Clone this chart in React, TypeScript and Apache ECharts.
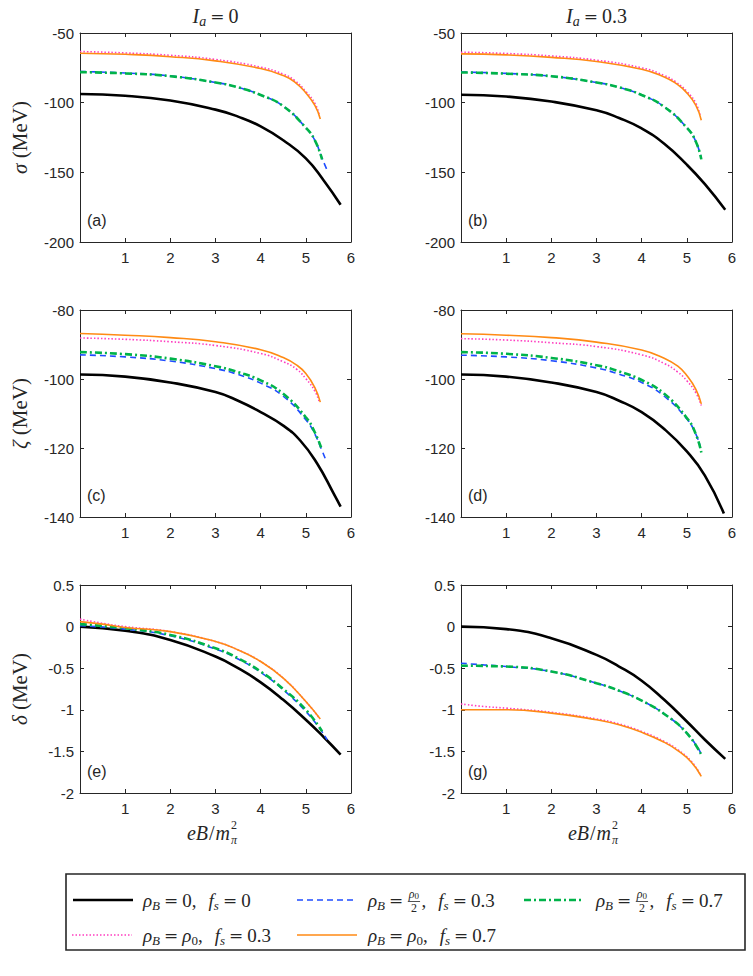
import React, { useEffect, useRef } from 'react';
import * as echarts from 'echarts';

// ---------------- data ----------------
// x = eB / m_pi^2
// Panel (a): sigma, I_a = 0
const sigmaA_black = [[0, -93.8], [1, -95], [2, -98.5], [3, -105], [3.5, -110], [4, -117], [4.5, -127], [5, -140], [5.4, -156], [5.77, -173.3]];
const sigmaA_blue = [[0, -77.6], [1, -78.7], [2, -80.8], [3, -85.5], [3.5, -89], [4, -94.5], [4.5, -102.5], [5, -118], [5.2, -127], [5.36, -140], [5.49, -149.8]];
const sigmaA_green = [[0, -78.1], [1, -79], [2, -81], [3, -85.5], [3.5, -89], [4, -94.5], [4.5, -102.5], [5, -118], [5.2, -127], [5.36, -140.7]];
const sigmaA_pink = [[0, -63.3], [1, -64.3], [2, -66], [3, -69], [4, -74.5], [4.5, -79.5], [4.75, -84], [5, -92], [5.2, -100.5], [5.3, -109]];
const sigmaA_orange = [[0, -64.5], [1, -65.3], [2, -67], [3, -70], [4, -75.5], [4.5, -80.5], [4.75, -85], [5, -93], [5.2, -102], [5.32, -111.7]];
// Panel (b): sigma, I_a = 0.3
const sigmaB_black = [[0, -94.3], [1, -95.6], [2, -99.2], [3, -105.5], [3.5, -111], [4, -118.5], [4.5, -129.5], [5, -144.5], [5.4, -158.5], [5.85, -176.9]];
const sigmaB_blue = [[0, -78], [1, -79], [2, -81], [3, -85.5], [3.5, -89], [4, -94.5], [4.5, -103], [5, -118], [5.2, -128], [5.32, -140.2]];
const sigmaB_green = [[0, -78.3], [1, -79.2], [2, -81], [3, -85.5], [3.5, -89], [4, -94.5], [4.5, -103], [5, -118], [5.2, -128], [5.32, -140.7]];
const sigmaB_pink = [[0, -63.8], [1, -64.7], [2, -66.5], [3, -69.5], [4, -75], [4.5, -80.5], [4.75, -85], [5, -92], [5.2, -100.5], [5.3, -110.2]];
const sigmaB_orange = [[0, -65], [1, -65.7], [2, -67.5], [3, -70.5], [4, -76], [4.5, -81.5], [4.75, -86], [5, -93], [5.2, -102], [5.32, -112.6]];
// Panel (c): zeta, I_a = 0
const zetaC_black = [[0, -98.7], [1, -99.3], [2, -101], [3, -103.8], [3.5, -106.3], [4, -109.6], [4.5, -113.5], [4.88, -117.9], [5.25, -124.5], [5.62, -133.3], [5.77, -137]];
const zetaC_blue = [[0, -93], [1, -93.6], [2, -94.8], [3, -97], [3.5, -98.7], [4, -101.2], [4.5, -105], [5, -111.8], [5.2, -116], [5.35, -120.5], [5.45, -123.7]];
const zetaC_green = [[0, -92.2], [1, -92.8], [2, -94.1], [3, -96.3], [3.5, -98], [4, -100.4], [4.5, -104.3], [5, -111.1], [5.2, -115.5], [5.35, -120.3]];
const zetaC_pink = [[0, -88.1], [1, -88.5], [2, -89.2], [3, -90.3], [4, -92.6], [4.5, -95], [4.8, -97.2], [5, -99.9], [5.2, -103.5], [5.3, -106.7]];
const zetaC_orange = [[0, -86.8], [1, -87.3], [2, -88], [3, -89.2], [4, -91.5], [4.5, -93.8], [4.8, -96], [5, -98.4], [5.2, -102.5], [5.32, -106.7]];
// Panel (d): zeta, I_a = 0.3
const zetaD_black = [[0, -98.7], [1, -99.3], [2, -101], [3, -103.8], [3.5, -106.3], [4, -109.6], [4.5, -114.5], [5, -121], [5.4, -128], [5.82, -139]];
const zetaD_blue = [[0, -93.1], [1, -93.6], [2, -94.7], [3, -96.8], [3.5, -98.6], [4, -101], [4.5, -105], [5, -111.6], [5.2, -116], [5.3, -119.8]];
const zetaD_green = [[0, -92.2], [1, -92.7], [2, -93.9], [3, -96], [3.5, -97.8], [4, -100.3], [4.5, -104.3], [5, -111.3], [5.2, -116], [5.32, -121.3]];
const zetaD_pink = [[0, -88.3], [1, -88.7], [2, -89.5], [3, -90.6], [4, -93], [4.5, -95.5], [4.8, -98], [5, -100.5], [5.2, -104], [5.32, -107.7]];
const zetaD_orange = [[0, -86.9], [1, -87.3], [2, -88], [3, -89.3], [4, -91.6], [4.5, -94], [4.8, -96.3], [5, -99], [5.2, -103], [5.32, -107.2]];
// Panel (e): delta, I_a = 0
const deltaE_black = [[0, 0], [1, -0.05], [2, -0.16], [3, -0.36], [3.5, -0.5], [4, -0.67], [4.5, -0.88], [5, -1.12], [5.4, -1.33], [5.77, -1.54]];
const deltaE_blue = [[0, 0.01], [1, -0.03], [2, -0.11], [3, -0.27], [3.5, -0.39], [4, -0.55], [4.5, -0.76], [5, -1.02], [5.3, -1.22], [5.47, -1.36]];
const deltaE_green = [[0, 0.03], [1, -0.02], [2, -0.1], [3, -0.26], [3.5, -0.38], [4, -0.54], [4.5, -0.75], [5, -1.0], [5.36, -1.26]];
const deltaE_pink = [[0, 0.09], [0.5, 0.04], [1, 0], [2, -0.06], [3, -0.18], [3.5, -0.28], [4, -0.42], [4.5, -0.62], [5, -0.9], [5.3, -1.1]];
const deltaE_orange = [[0, 0.06], [0.5, 0.03], [1, -0.01], [2, -0.06], [3, -0.18], [3.5, -0.28], [4, -0.42], [4.5, -0.62], [5, -0.9], [5.32, -1.11]];
// Panel (g): delta, I_a = 0.3
const deltaG_black = [[0, 0], [1, -0.03], [2, -0.14], [3, -0.34], [3.5, -0.48], [4, -0.65], [4.5, -0.88], [5, -1.14], [5.4, -1.36], [5.85, -1.59]];
const deltaG_blue = [[0, -0.44], [0.5, -0.46], [1, -0.48], [2, -0.54], [3, -0.68], [3.5, -0.77], [4, -0.89], [4.5, -1.05], [5, -1.28], [5.32, -1.53]];
const deltaG_green = [[0, -0.47], [1, -0.48], [2, -0.54], [3, -0.68], [3.5, -0.77], [4, -0.89], [4.5, -1.05], [5, -1.28], [5.32, -1.54]];
const deltaG_pink = [[0, -0.93], [0.5, -0.96], [1, -0.98], [2, -1.03], [3, -1.11], [3.5, -1.17], [4, -1.26], [4.5, -1.38], [4.8, -1.48], [5.1, -1.62], [5.3, -1.78]];
const deltaG_orange = [[0, -1.0], [1, -1.0], [2, -1.04], [3, -1.12], [3.5, -1.18], [4, -1.27], [4.5, -1.39], [4.8, -1.49], [5.1, -1.63], [5.32, -1.8]];

const xRange = [0, 6, 1];
const sigmaRange = [-200, -50, 50];
const zetaRange = [-140, -80, 20];
const deltaRange = [-2, 0.5, 0.5];
const panelLetters = ['(a)', '(b)', '(c)', '(d)', '(e)', '(g)'];

// ---------------- styling ----------------
const SERIF = '"Liberation Serif", "DejaVu Serif", serif';
const EQFONT = '"DejaVu Serif", "Liberation Serif", serif';
const SANS = '"Liberation Sans", Arial, Helvetica, sans-serif';
const AX = '#262626';

const seriesStyles = [
  { color: '#000000', width: 2.6, type: 'solid' as any },
  { color: '#1f4cff', width: 1.6, type: [6, 4] as any },
  { color: '#00b34a', width: 2.6, type: [7, 3, 2, 3] as any },
  { color: '#ff3dc0', width: 1.6, type: [1.5, 2] as any },
  { color: '#ff8a14', width: 1.6, type: 'solid' as any },
];

const GRIDS = [
  { left: 80, top: 33, width: 271, height: 209 },
  { left: 461, top: 33, width: 271, height: 209 },
  { left: 80, top: 310, width: 271, height: 207 },
  { left: 461, top: 310, width: 271, height: 207 },
  { left: 80, top: 585, width: 271, height: 208 },
  { left: 461, top: 585, width: 271, height: 208 },
];

const panelData = [
  [sigmaA_black, sigmaA_blue, sigmaA_green, sigmaA_pink, sigmaA_orange],
  [sigmaB_black, sigmaB_blue, sigmaB_green, sigmaB_pink, sigmaB_orange],
  [zetaC_black, zetaC_blue, zetaC_green, zetaC_pink, zetaC_orange],
  [zetaD_black, zetaD_blue, zetaD_green, zetaD_pink, zetaD_orange],
  [deltaE_black, deltaE_blue, deltaE_green, deltaE_pink, deltaE_orange],
  [deltaG_black, deltaG_blue, deltaG_green, deltaG_pink, deltaG_orange],
];
const panelY = [sigmaRange, sigmaRange, zetaRange, zetaRange, deltaRange, deltaRange];

// ---------------- math-like text layout ----------------
let ctx: CanvasRenderingContext2D | null = null;
function measure(t: string, size: number, italic: boolean, family = SERIF) {
  if (!ctx) ctx = document.createElement('canvas').getContext('2d');
  ctx!.font = `${italic ? 'italic ' : ''}${size}px ${family}`;
  return ctx!.measureText(t).width;
}

type Piece = any;
function layout(pieces: Piece[], x: number, y: number, base: number, els: any[] | null): number {
  let cx = x;
  for (const p of pieces) {
    if (p.g !== undefined) {
      cx += p.g;
    } else if (p.num) {
      const wn = layout(p.num, 0, 0, base, null);
      const wd = layout(p.den, 0, 0, base, null);
      const w = Math.max(wn, wd) + 3;
      if (els) {
        layout(p.num, cx + (w - wn) / 2, y - 6, base, els);
        layout(p.den, cx + (w - wd) / 2, y + 8, base, els);
        els.push({
          type: 'line', silent: true,
          shape: { x1: cx + 0.5, y1: y + 1.5, x2: cx + w - 0.5, y2: y + 1.5 },
          style: { stroke: AX, lineWidth: 0.8 },
        });
      }
      cx += w + 1;
    } else if (p.sup) {
      const ws = measure(p.sup, 12, false);
      const wb = measure(p.sub, 12, true);
      if (els) {
        els.push(txt(p.sup, cx + 1, y - 8, 12, false, SERIF));
        els.push(txt(p.sub, cx + 1, y + 7, 12, true, SERIF));
      }
      cx += Math.max(ws, wb) + 1;
    } else {
      const size = p.s ?? base;
      const fam = p.f ?? SERIF;
      const w = measure(p.t, size, !!p.it, fam);
      if (els) els.push(txt(p.t, cx, y + (p.dy || 0), size, !!p.it, fam));
      cx += w;
    }
  }
  return cx - x;
}
function txt(t: string, x: number, y: number, size: number, italic: boolean, family: string) {
  return {
    type: 'text', x, y, silent: true,
    style: {
      text: t, fontSize: size, fontFamily: family, fontStyle: italic ? 'italic' : 'normal',
      fill: AX, align: 'left', verticalAlign: 'middle', textAlign: 'left', textVerticalAlign: 'middle',
    },
  };
}
function mathText(pieces: Piece[], x: number, y: number, base: number, align: 'left' | 'center', els: any[]) {
  const w = layout(pieces, 0, 0, base, null);
  const x0 = align === 'center' ? x - w / 2 : x;
  layout(pieces, x0, y, base, els);
}

const sub = (t: string, it = true) => ({ t, it, s: 13, dy: 5 });
const EQ = [{ g: 4 }, { t: '=', f: EQFONT, s: 17 }, { g: 4 }];
const COMMA = [{ t: ',' }, { g: 12 }];
const rhoHalf = { num: [{ t: 'ρ', it: true, s: 12 }, { t: '0', s: 9, dy: 2 }], den: [{ t: '2', s: 12 }] };
const rhoB = [{ t: 'ρ', it: true }, sub('B')];
const fs = [{ t: 'f', it: true }, sub('s')];
const legendLabels: Piece[][] = [
  [...rhoB, ...EQ, { t: '0' }, ...COMMA, ...fs, ...EQ, { t: '0' }],
  [...rhoB, ...EQ, rhoHalf, ...COMMA, ...fs, ...EQ, { t: '0.3' }],
  [...rhoB, ...EQ, rhoHalf, ...COMMA, ...fs, ...EQ, { t: '0.7' }],
  [...rhoB, ...EQ, { t: 'ρ', it: true }, sub('0', false), ...COMMA, ...fs, ...EQ, { t: '0.3' }],
  [...rhoB, ...EQ, { t: 'ρ', it: true }, sub('0', false), ...COMMA, ...fs, ...EQ, { t: '0.7' }],
];
// legend positions: [lineX1, lineX2, y, textX]
const legendPos = [
  [73, 133, 900, 143],
  [297, 356, 900, 368],
  [524, 584, 900, 596],
  [72, 132, 935, 143],
  [297, 357, 935, 368],
];

function buildOption() {
  const grid = GRIDS.map((g) => ({ ...g }));
  const xAxis: any[] = [];
  const yAxis: any[] = [];
  const series: any[] = [];
  const yNames = ['σ', '', 'ζ', '', 'δ', ''];
  GRIDS.forEach((g, i) => {
    const common = {
      type: 'value', gridIndex: i, min: xRange[0], max: xRange[1], interval: xRange[2],
      axisLine: { show: true, onZero: false, lineStyle: { color: AX, width: 1 } },
      axisTick: { show: true, inside: true, length: 4, lineStyle: { color: AX, width: 1 } },
      splitLine: { show: false },
    };
    xAxis.push({
      ...common, position: 'bottom',
      axisLabel: { margin: 8, color: AX, fontSize: 15, fontFamily: SANS, formatter: (v: number) => (v === 0 ? '' : String(v)) },
    });
    xAxis.push({ ...common, position: 'top', axisLabel: { show: false } });
    const [ymin, ymax, yint] = panelY[i];
    const ycommon = {
      type: 'value', gridIndex: i, min: ymin, max: ymax, interval: yint,
      axisLine: { show: true, onZero: false, lineStyle: { color: AX, width: 1 } },
      axisTick: { show: true, inside: true, length: 4, lineStyle: { color: AX, width: 1 } },
      splitLine: { show: false },
    };
    const yl: any = {
      ...ycommon, position: 'left',
      axisLabel: { margin: 6, color: AX, fontSize: 15, fontFamily: SANS, formatter: (v: number) => String(v) },
    };
    if (yNames[i]) {
      yl.name = `{i|${yNames[i]}} {r|(MeV)}`;
      yl.nameLocation = 'middle';
      yl.nameGap = 50;
      yl.nameRotate = 90;
      yl.nameTextStyle = {
        color: AX, fontFamily: SERIF, fontSize: 21,
        rich: {
          i: { fontStyle: 'italic', fontFamily: SERIF, fontSize: 21, color: AX },
          r: { fontFamily: SERIF, fontSize: 21, color: AX },
        },
      };
    }
    yAxis.push(yl);
    yAxis.push({ ...ycommon, position: 'right', axisLabel: { show: false } });
    panelData[i].forEach((d, k) => {
      const st = seriesStyles[k];
      series.push({
        type: 'line', xAxisIndex: i * 2, yAxisIndex: i * 2, data: d,
        showSymbol: false, symbol: 'none', smooth: 0.5, silent: true,
        lineStyle: { color: st.color, width: st.width, type: st.type, cap: 'butt' },
        z: 2 + k,
      });
    });
  });

  const els: any[] = [];
  // column titles
  mathText([{ t: 'I', it: true }, { t: 'a', it: true, s: 14, dy: 5 }, ...EQ, { t: '0' }], 215.5, 16, 20, 'center', els);
  mathText([{ t: 'I', it: true }, { t: 'a', it: true, s: 14, dy: 5 }, ...EQ, { t: '0.3' }], 596.5, 16, 20, 'center', els);
  // x axis titles
  const xt = [{ t: 'eB', it: true }, { g: 1 }, { t: '/' }, { g: 1 }, { t: 'm', it: true }, { sup: '2', sub: 'π' }];
  mathText(xt, 212, 833, 20, 'center', els);
  mathText(xt, 593, 833, 20, 'center', els);
  // panel letters
  GRIDS.forEach((g, i) => {
    els.push({
      type: 'text', x: g.left + 7, y: g.top + g.height - 22, silent: true,
      style: { text: panelLetters[i], fontSize: 16, fontFamily: SANS, fill: AX, align: 'left', verticalAlign: 'middle', textAlign: 'left', textVerticalAlign: 'middle' },
    });
  });
  // legend box
  els.push({
    type: 'rect', silent: true, shape: { x: 66, y: 874, width: 679, height: 76 },
    style: { fill: '#fff', stroke: AX, lineWidth: 1.6 }, z: -1,
  });
  legendPos.forEach((p, k) => {
    const st = seriesStyles[k];
    els.push({
      type: 'line', silent: true,
      shape: { x1: p[0], y1: p[2], x2: p[1], y2: p[2] },
      style: { stroke: st.color, lineWidth: st.width, lineDash: Array.isArray(st.type) ? st.type : null },
    });
    mathText(legendLabels[k], p[3], p[2], 19, 'left', els);
  });

  return {
    animation: false,
    backgroundColor: '#ffffff',
    grid, xAxis, yAxis, series,
    graphic: { elements: els },
  };
}

export default function App() {
  const ref = useRef<HTMLDivElement>(null);
  useEffect(() => {
    document.body.style.margin = '0';
    const chart = echarts.init(ref.current!, null, { renderer: 'svg' });
    chart.setOption(buildOption() as any);
    return () => chart.dispose();
  }, []);
  return <div ref={ref} style={{ width: 753, height: 976 }} />;
}
